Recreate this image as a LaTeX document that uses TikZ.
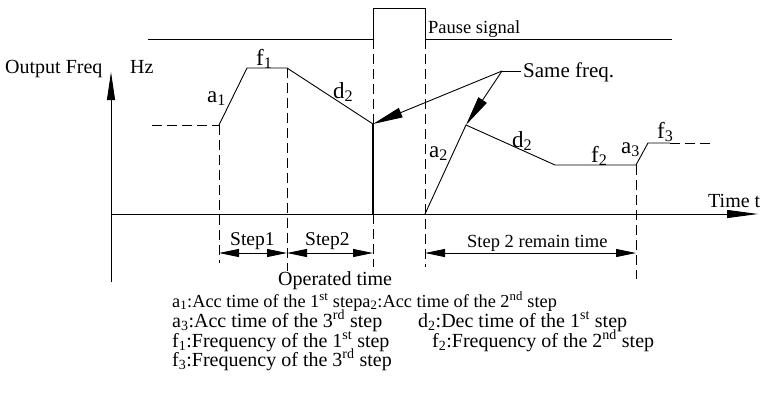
\documentclass[tikz,border=0pt]{standalone}
\usepackage{fontspec}
\setmainfont{Liberation Serif}
\usetikzlibrary{arrows.meta}
\newcommand{\fsz}[1]{\fontsize{#1}{#1}\selectfont}
\begin{document}
\begin{tikzpicture}[x=1pt,y=-1pt,
  ln/.style={line width=0.9pt},
  dsh/.style={line width=0.8pt, dash pattern=on 10pt off 5pt},
  txt/.style={anchor=base west, inner sep=0pt, font=\fsz{20}},
  lbl/.style={anchor=base west, inner sep=0pt, font=\fsz{23}},
  leg/.style={anchor=base west, inner sep=0pt, font=\fsz{20}},
  dimarr/.style={ln, {Triangle[length=20pt,width=8pt]}-{Triangle[length=20pt,width=8pt]}},
  bigarr/.style={ln, -{Triangle[length=30pt,width=10pt]}}
]
\useasboundingbox (0,0) rectangle (771,394);
% key points
\coordinate (O) at (111,214);
\coordinate (ytop) at (111,72);
\coordinate (ybot) at (111,282);
\coordinate (xend) at (758,214);
\coordinate (p0) at (152,125);
\coordinate (p1) at (219,125);
\coordinate (p2) at (247,68);
\coordinate (p3) at (287,68);
\coordinate (p4) at (373,124);
\coordinate (p4b) at (373,214);
\coordinate (q0) at (425,214);
\coordinate (q1) at (466,125);
\coordinate (q2) at (555,165);
\coordinate (q3) at (636,165);
\coordinate (q4) at (648,143);
\coordinate (q5) at (670,143);
\coordinate (q6) at (712,143);
\coordinate (s0) at (148,39);
\coordinate (s1) at (373,39);
\coordinate (s2) at (373,8);
\coordinate (s3) at (425,8);
\coordinate (s4) at (425,39);
\coordinate (s5) at (672,39);
\coordinate (lead) at (502,71);
\coordinate (leadend) at (521,71);
% axes
\draw[ln] (ybot) -- (O);
\draw[ln, -{Triangle[length=28pt,width=8pt]}] (O) -- (ytop);
\draw[ln, -{Triangle[length=31pt,width=8pt]}] (O) -- (xend);
% pause signal
\draw[ln] (s0) -- (s1) -- (s2) -- (s3) -- (s4) -- (s5);
% curve
\draw[dsh] (p0) -- (p1);
\draw[ln] (p1) -- (p2) -- (p3) -- (p4);
\draw[line width=2pt] (p4) -- (p4b);
\draw[ln] (q0) -- (q1) -- (q2) -- (q3) -- (q4) -- (q5);
\draw[dsh] (q5) -- (q6);
% dashed verticals
\draw[dsh] (p1) -- (219,263);
\draw[dsh] (p3) -- (287,271);
\draw[dsh] (s1) -- (p4);
\draw[dsh] (p4b) -- (373,267);
\draw[dsh] (s4) -- (425,267);
\draw[dsh] (q3) -- (636,279);
% same freq
\draw[ln] (lead) -- (leadend);
\draw[bigarr] (lead) -- (p4);
\draw[bigarr] (lead) -- (q1);
% dimension arrows
\draw[dimarr] (219,253) -- (287,253);
\draw[dimarr] (287,253) -- (373,253);
\draw[dimarr] (425,253) -- (636,253);
% texts
\node[txt] (of) at (5,73) {Output Freq};
\node[txt] (hz) at (130,73) {Hz};
\node[txt, font=\fsz{18.5}] (ps) at (428,33) {Pause signal};
\node[txt, font=\fsz{21}] (sf) at (523,77) {Same freq.};
\node[txt] (tt) at (708,207) {Time t};
\node[txt, font=\fsz{19.5}] (st1) at (230,245) {Step1};
\node[txt, font=\fsz{19.5}] (st2) at (305,245) {Step2};
\node[txt, font=\fsz{18.5}] (st3) at (467,247) {Step 2 remain time};
\node[txt] (opt) at (278,285) {Operated time};
% curve labels
\node[lbl] (la1) at (207,102) {a\textsubscript{1}};
\node[lbl] (lf1) at (256,65) {f\textsubscript{1}};
\node[lbl] (ld2) at (333,98) {d\textsubscript{2}};
\node[lbl] (la2) at (429,157) {a\textsubscript{2}};
\node[lbl] (ld2b) at (512,147) {d\textsubscript{2}};
\node[lbl] (lf2) at (591,162) {f\textsubscript{2}};
\node[lbl] (la3) at (621,153) {a\textsubscript{3}};
\node[lbl] (lf3) at (657,138) {f\textsubscript{3}};
% legend
\node[leg, font=\fsz{18.3}] (g1) at (172,307) {a\textsubscript{1}:Acc time of the 1\textsuperscript{st} stepa\textsubscript{2}:Acc time of the 2\textsuperscript{nd} step};
\node[leg] (g2) at (172,327) {a\textsubscript{3}:Acc time of the 3\textsuperscript{rd} step};
\node[leg] (g3) at (418,327) {d\textsubscript{2}:Dec time of the 1\textsuperscript{st} step};
\node[leg] (g4) at (172,347) {f\textsubscript{1}:Frequency of the 1\textsuperscript{st} step};
\node[leg] (g5) at (432,347) {f\textsubscript{2}:Frequency of the 2\textsuperscript{nd} step};
\node[leg] (g6) at (172,366) {f\textsubscript{3}:Frequency of the 3\textsuperscript{rd} step};
\end{tikzpicture}
\end{document}
